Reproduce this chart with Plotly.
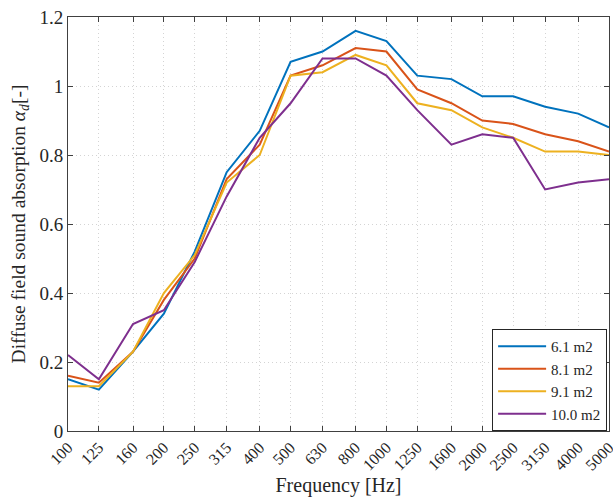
import plotly.graph_objects as go

freqs = [100, 125, 160, 200, 250, 315, 400, 500, 630, 800, 1000, 1250, 1600, 2000, 2500, 3150, 4000, 5000]
freq_labels = [str(f) for f in freqs]

s61 = [0.15, 0.12, 0.23, 0.34, 0.52, 0.75, 0.87, 1.07, 1.10, 1.16, 1.13, 1.03, 1.02, 0.97, 0.97, 0.94, 0.92, 0.88]
s81 = [0.16, 0.14, 0.23, 0.38, 0.50, 0.73, 0.83, 1.03, 1.06, 1.11, 1.10, 0.99, 0.95, 0.90, 0.89, 0.86, 0.84, 0.81]
s91 = [0.13, 0.13, 0.23, 0.40, 0.51, 0.72, 0.80, 1.03, 1.04, 1.09, 1.06, 0.95, 0.93, 0.88, 0.85, 0.81, 0.81, 0.80]
s100 = [0.22, 0.15, 0.31, 0.35, 0.49, 0.68, 0.85, 0.95, 1.08, 1.08, 1.03, 0.93, 0.83, 0.86, 0.85, 0.70, 0.72, 0.73]

series_names = ["6.1 m2", "8.1 m2", "9.1 m2", "10.0 m2"]
series_colors = ["#0072BD", "#D95319", "#EDB120", "#7E2F8E"]
series_vals = [s61, s81, s91, s100]

y_ticks = [0, 0.2, 0.4, 0.6, 0.8, 1.0, 1.2]
y_labels = ["0", "0.2", "0.4", "0.6", "0.8", "1", "1.2"]

FONT = "Liberation Serif"
AX = "#404040"
TXT = "#262626"

fig = go.Figure()
for name, col, vals in zip(series_names, series_colors, series_vals):
    fig.add_trace(go.Scatter(x=freqs, y=vals, mode="lines", name=name,
                             line=dict(color=col, width=2)))

fig.update_layout(
    width=613, height=499,
    margin=dict(l=68, r=4, t=17, b=68),
    paper_bgcolor="white", plot_bgcolor="white",
    font=dict(family=FONT, size=17, color=TXT),
    legend=dict(x=0.9965, y=0.0, xanchor="right", yanchor="bottom",
                bordercolor=TXT, borderwidth=1, bgcolor="white",
                font=dict(family=FONT, size=15, color=TXT),
                tracegroupgap=0, itemwidth=48),
)
fig.update_xaxes(
    type="log", range=[2, 3.69898],
    tickmode="array", tickvals=freqs, ticktext=freq_labels,
    tickangle=-45, tickfont=dict(size=16), ticklabeloverflow="allow",
    ticks="inside", ticklen=5, tickcolor=AX,
    showline=True, linecolor=AX, linewidth=1, mirror="ticks",
    showgrid=True, gridcolor="#d4d4d4", griddash="1px,3px", gridwidth=1,
    zeroline=False, automargin=False,
    title=dict(text="Frequency [Hz]", font=dict(size=20), standoff=4),
)
fig.update_yaxes(
    range=[0, 1.2],
    tickmode="array", tickvals=y_ticks, ticktext=y_labels,
    tickfont=dict(size=19),
    ticks="inside", ticklen=5, tickcolor=AX,
    showline=True, linecolor=AX, linewidth=1, mirror="ticks",
    showgrid=True, gridcolor="#d4d4d4", griddash="1px,3px", gridwidth=1,
    zeroline=False, automargin=False,
    title=dict(text="Diffuse field sound absorption <i>α<sub>d</sub></i>[-]", font=dict(size=19.5), standoff=8),
)

fig.write_html("out.html", config={"displayModeBar": False},
               post_script="document.body.style.margin='0';document.body.style.overflow='hidden';")
